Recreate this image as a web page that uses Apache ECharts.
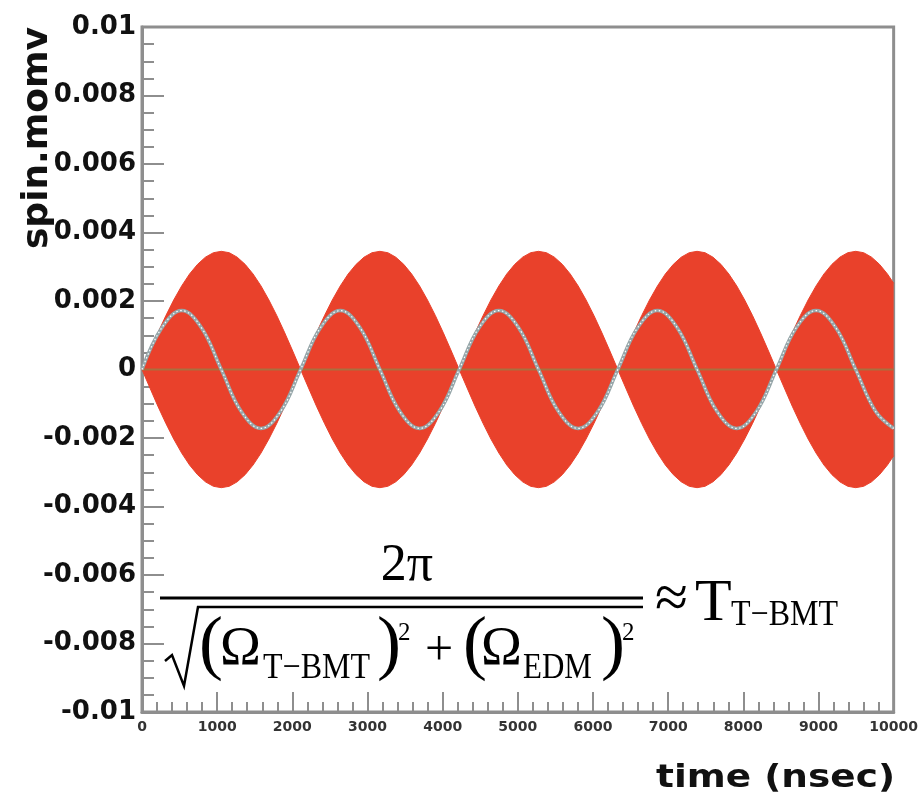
<!DOCTYPE html>
<html>
<head>
<meta charset="utf-8">
<script src="https://cdn.jsdelivr.net/npm/echarts@6/dist/echarts.min.js"></script>
<style>
  html, body { margin: 0; padding: 0; background: #ffffff; }
  #chart { width: 921px; height: 801px; }
</style>
</head>
<body>
<div id="chart"></div>
<script>
// ---- data ----
// envelope of the fast spin oscillation (filled red band)
const envTime = [0, 106, 211, 317, 422, 528, 633, 739, 844, 950, 1055, 1161, 1266, 1372, 1477, 1583, 1688, 1794, 1899, 2005,
  2110, 2216, 2321, 2427, 2532, 2638, 2743, 2849, 2954, 3060, 3165, 3271, 3376, 3482, 3587, 3693, 3798, 3904, 4009, 4115,
  4220, 4326, 4431, 4537, 4642, 4748, 4853, 4959, 5064, 5170, 5275, 5381, 5486, 5592, 5697, 5803, 5908, 6014, 6119, 6225,
  6330, 6436, 6541, 6647, 6752, 6858, 6963, 7069, 7174, 7280, 7385, 7491, 7596, 7702, 7807, 7913, 8018, 8124, 8229, 8335,
  8440, 8546, 8651, 8757, 8862, 8968, 9073, 9179, 9284, 9390, 9495, 9601, 9706, 9812, 9917, 10000];

const envUpper = [0, 0.00054, 0.00107, 0.00157, 0.00203, 0.00244, 0.00279, 0.00307, 0.00328, 0.00341, 0.00345, 0.00341, 0.00328, 0.00307, 0.00279, 0.00244, 0.00203, 0.00157, 0.00107, 0.00054,
  0, 0.00054, 0.00107, 0.00157, 0.00203, 0.00244, 0.00279, 0.00307, 0.00328, 0.00341, 0.00345, 0.00341, 0.00328, 0.00307, 0.00279, 0.00244, 0.00203, 0.00157, 0.00107, 0.00054,
  0, 0.00054, 0.00107, 0.00157, 0.00203, 0.00244, 0.00279, 0.00307, 0.00328, 0.00341, 0.00345, 0.00341, 0.00328, 0.00307, 0.00279, 0.00244, 0.00203, 0.00157, 0.00107, 0.00054,
  0, 0.00054, 0.00107, 0.00157, 0.00203, 0.00244, 0.00279, 0.00307, 0.00328, 0.00341, 0.00345, 0.00341, 0.00328, 0.00307, 0.00279, 0.00244, 0.00203, 0.00157, 0.00107, 0.00054,
  0, 0.00054, 0.00107, 0.00157, 0.00203, 0.00244, 0.00279, 0.00307, 0.00328, 0.00341, 0.00345, 0.00341, 0.00328, 0.00307, 0.00279, 0.00252];

const envLower = [0, -0.00054, -0.00107, -0.00157, -0.00203, -0.00244, -0.00279, -0.00307, -0.00328, -0.00341, -0.00345, -0.00341, -0.00328, -0.00307, -0.00279, -0.00244, -0.00203, -0.00157, -0.00107, -0.00054,
  0, -0.00054, -0.00107, -0.00157, -0.00203, -0.00244, -0.00279, -0.00307, -0.00328, -0.00341, -0.00345, -0.00341, -0.00328, -0.00307, -0.00279, -0.00244, -0.00203, -0.00157, -0.00107, -0.00054,
  0, -0.00054, -0.00107, -0.00157, -0.00203, -0.00244, -0.00279, -0.00307, -0.00328, -0.00341, -0.00345, -0.00341, -0.00328, -0.00307, -0.00279, -0.00244, -0.00203, -0.00157, -0.00107, -0.00054,
  0, -0.00054, -0.00107, -0.00157, -0.00203, -0.00244, -0.00279, -0.00307, -0.00328, -0.00341, -0.00345, -0.00341, -0.00328, -0.00307, -0.00279, -0.00244, -0.00203, -0.00157, -0.00107, -0.00054,
  0, -0.00054, -0.00107, -0.00157, -0.00203, -0.00244, -0.00279, -0.00307, -0.00328, -0.00341, -0.00345, -0.00341, -0.00328, -0.00307, -0.00279, -0.00252];

// slow (grey) spin component
const spinTime = [0, 264, 528, 791, 1055, 1319, 1583, 1846, 2110, 2374, 2638, 2901, 3165, 3429, 3693, 3956,
  4220, 4484, 4748, 5011, 5275, 5539, 5803, 6066, 6330, 6594, 6858, 7121, 7385, 7649, 7913, 8176,
  8440, 8704, 8968, 9231, 9495, 9759, 10000];
const spinVals = [0, 0.00122, 0.00172, 0.00122, 0, -0.00122, -0.00172, -0.00122,
  0, 0.00122, 0.00172, 0.00122, 0, -0.00122, -0.00172, -0.00122,
  0, 0.00122, 0.00172, 0.00122, 0, -0.00122, -0.00172, -0.00122,
  0, 0.00122, 0.00172, 0.00122, 0, -0.00122, -0.00172, -0.00122,
  0, 0.00122, 0.00172, 0.00122, 0, -0.00122, -0.00172];

const zeroTime = [0, 10000];
const zeroVals = [0, 0];

const xTickLabels = ['0', '1000', '2000', '3000', '4000', '5000', '6000', '7000', '8000', '9000', '10000'];
const yTickLabels = ['-0.01', '-0.008', '-0.006', '-0.004', '-0.002', '0', '0.002', '0.004', '0.006', '0.008', '0.01'];

const xAxisTitle = 'time (nsec)';
const yAxisTitle = 'spin.momv';

// ---- build ----
function pairs(ts, vs) { return ts.map((t, i) => [t, vs[i]]); }

const chart = echarts.init(document.getElementById('chart'), null, { renderer: 'canvas' });

const axisGrey = '#8e8e8e';
const serif = 'Liberation Serif';

function ft(text, x, y, size, extra, align) {
  return Object.assign({
    type: 'text', x: x, y: y, z: 100,
    style: {
      text: text, fill: '#000', font: size + 'px "' + serif + '"',
      textAlign: align || 'left', textVerticalAlign: 'middle'
    }
  }, extra || {});
}

const option = {
  animation: false,
  backgroundColor: '#ffffff',
  grid: {
    left: 142, right: 23, top: 27, bottom: 89,
    show: true, borderColor: axisGrey, borderWidth: 3, backgroundColor: 'transparent'
  },
  xAxis: {
    type: 'value', min: 0, max: 10000, interval: 1000,
    axisLine: { show: true, onZero: false, lineStyle: { color: axisGrey, width: 3 } },
    axisTick: { show: true, inside: true, length: 20, lineStyle: { color: axisGrey, width: 2 } },
    minorTick: { show: true, splitNumber: 5, length: 10, lineStyle: { color: axisGrey, width: 2 } },
    splitLine: { show: false },
    axisLabel: {
      margin: 8, color: '#333', fontFamily: 'DejaVu Sans', fontWeight: 'bold', fontSize: 14,
      formatter: function (v) { return xTickLabels[Math.round(v / 1000)]; }
    }
  },
  yAxis: {
    type: 'value', min: -0.01, max: 0.01, interval: 0.002,
    axisLine: { show: true, onZero: false, lineStyle: { color: axisGrey, width: 3 } },
    axisTick: { show: true, inside: true, length: 22, lineStyle: { color: axisGrey, width: 2 } },
    minorTick: { show: true, splitNumber: 4, length: 12, lineStyle: { color: axisGrey, width: 2 } },
    splitLine: { show: false },
    axisLabel: {
      margin: 6, color: '#111', fontFamily: 'DejaVu Sans', fontWeight: 'bold', fontSize: 26,
      formatter: function (v) { return yTickLabels[Math.round((v + 0.01) / 0.002)]; }
    }
  },
  series: [
    {
      type: 'line', data: pairs(envTime, envUpper), symbol: 'none', z: 2,
      lineStyle: { width: 1, color: '#e9412b' },
      areaStyle: { color: '#e9412b', opacity: 1 }
    },
    {
      type: 'line', data: pairs(envTime, envLower), symbol: 'none', z: 2,
      lineStyle: { width: 1, color: '#e9412b' },
      areaStyle: { color: '#e9412b', opacity: 1 }
    },
    {
      type: 'line', data: pairs(zeroTime, zeroVals), symbol: 'none', z: 3,
      lineStyle: { width: 2, color: '#a8703f' }
    },
    {
      type: 'line', data: pairs(spinTime, spinVals), symbol: 'none', smooth: 0.4, z: 4,
      lineStyle: { width: 3.5, color: '#96a6a9' }
    },
    {
      type: 'line', data: pairs(spinTime, spinVals), symbol: 'none', smooth: 0.4, z: 5,
      lineStyle: { width: 1.2, color: '#ffffff', type: [1.5, 2.5] }
    }
  ],
  graphic: [
    {
      type: 'text', x: 38, y: 27, rotation: Math.PI / 2, z: 100,
      style: {
        text: yAxisTitle, fill: '#111', font: 'bold 36px "DejaVu Sans"',
        textAlign: 'right', textVerticalAlign: 'middle'
      }
    },
    {
      type: 'text', x: 895, y: 779, scaleX: 1.17, z: 100,
      style: {
        text: xAxisTitle, fill: '#111', font: 'bold 32px "DejaVu Sans"',
        textAlign: 'right', textVerticalAlign: 'middle'
      }
    },
    // formula
    ft('2π', 407, 566, 52, null, 'center'),
    { type: 'line', z: 100, shape: { x1: 160, y1: 598, x2: 643, y2: 598 }, style: { stroke: '#000', lineWidth: 3 } },
    { type: 'polyline', z: 100, shape: { points: [[165, 661], [172, 655], [184, 686], [198, 607], [643, 607]] }, style: { stroke: '#000', lineWidth: 2.5, fill: null } },
    ft('(', 199, 647, 72),
    ft('Ω', 220, 650, 55),
    ft('T\u2212BMT', 263, 669, 36, { scaleX: 0.89 }),
    ft(')', 377, 647, 72),
    ft('2', 398, 633, 25),
    ft('+', 425, 652, 50),
    ft('(', 463, 647, 72),
    ft('Ω', 481, 650, 55),
    ft('EDM', 523, 669, 36, { scaleX: 0.86 }),
    ft(')', 601, 647, 72),
    ft('2', 622, 633, 25),
    ft('\u2248', 655, 601, 60),
    ft('T', 695, 604, 60),
    ft('T\u2212BMT', 731, 616, 36, { scaleX: 0.89 })
  ]
};

chart.setOption(option);
</script>
</body>
</html>
